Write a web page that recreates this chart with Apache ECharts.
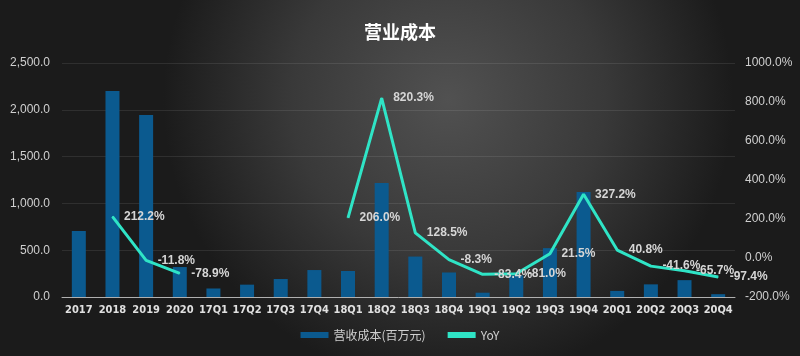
<!DOCTYPE html>
<html>
<head>
<meta charset="utf-8">
<script src="https://cdn.jsdelivr.net/npm/echarts@6/dist/echarts.min.js"></script>
<style>html,body{margin:0;padding:0;background:#222;}#c{width:800px;height:356px;}</style>
</head>
<body>
<div id="c"></div>
<script>
const categories = ['2017','2018','2019','2020','17Q1','17Q2','17Q3','17Q4','18Q1','18Q2','18Q3','18Q4','19Q1','19Q2','19Q3','19Q4','20Q1','20Q2','20Q3','20Q4'];
const costValues = [705, 2201, 1944, 320, 91, 132, 192, 288, 278, 1218, 432, 262, 46, 231, 522, 1122, 65, 135, 180, 30];
const yoyValues = [null, 212.2, -11.8, -78.9, null, null, null, null, 206.0, 820.3, 128.5, -8.3, -83.4, -81.0, 21.5, 327.2, 40.8, -41.6, -65.7, -97.4];
const leftTicks = [0, 500, 1000, 1500, 2000, 2500];
const rightTicks = [-200, 0, 200, 400, 600, 800, 1000];

const chart = echarts.init(document.getElementById('c'), null, {renderer: 'canvas'});
const labelColor = '#d6d6d6';
chart.setOption({
  animation: false,
  backgroundColor: {
    type: 'radial', x: 0.56, y: 0.28, r: 0.8,
    colorStops: [{offset: 0, color: '#515151'}, {offset: 0.55, color: '#393939'}, {offset: 1, color: '#1b1b1b'}]
  },
  title: {
    text: '营业成本', left: 'center', top: 18,
    textStyle: {color: '#ffffff', fontSize: 18, fontWeight: 'bold', fontFamily: 'Noto Sans CJK SC'}
  },
  legend: {
    bottom: 10, left: 'center', itemGap: 22, itemWidth: 28, itemHeight: 6,
    textStyle: {color: '#cfcfcf', fontSize: 12, fontFamily: 'Noto Sans CJK SC'},
    data: [{name: '营收成本(百万元)', icon: 'rect'}, {name: 'YoY', icon: 'rect'}]
  },
  grid: {left: 62, right: 65, top: 63, bottom: 59},
  xAxis: {
    type: 'category', data: categories,
    axisTick: {show: false},
    axisLine: {lineStyle: {color: '#b0b0b0', width: 1}},
    axisLabel: {color: '#e0e0e0', fontSize: 11, fontWeight: 'bold', fontFamily: 'DejaVu Sans Condensed, Liberation Sans', interval: 0, margin: 8}
  },
  yAxis: [{
    type: 'value', min: leftTicks[0], max: leftTicks[leftTicks.length - 1], interval: 500,
    axisLabel: {color: '#d0d0d0', fontSize: 12, fontFamily: 'Liberation Sans', margin: 12,
      formatter: v => v.toLocaleString('en-US', {minimumFractionDigits: 1, maximumFractionDigits: 1})},
    axisLine: {show: false}, axisTick: {show: false},
    splitLine: {lineStyle: {color: 'rgba(255,255,255,0.09)'}}
  }, {
    type: 'value', min: rightTicks[0], max: rightTicks[rightTicks.length - 1], interval: 200,
    axisLabel: {color: '#d0d0d0', fontSize: 12, fontFamily: 'Liberation Sans', margin: 10,
      formatter: v => v.toFixed(1) + '%'},
    axisLine: {show: false}, axisTick: {show: false}, splitLine: {show: false}
  }],
  series: [{
    name: '营收成本(百万元)', type: 'bar', data: costValues, barWidth: 14,
    itemStyle: {color: '#0b5a8f'}
  }, {
    name: 'YoY', type: 'line', yAxisIndex: 1, data: yoyValues,
    showSymbol: true, symbol: 'circle', symbolSize: 1, connectNulls: false,
    lineStyle: {color: '#2fe4c6', width: 3},
    itemStyle: {color: '#2fe4c6'},
    label: {show: true, position: 'right', distance: 11, color: labelColor, fontSize: 12, fontWeight: 'bold', fontFamily: 'Liberation Sans',
      formatter: p => p.value == null ? '' : p.value.toFixed(1) + '%'}
  }]
});
</script>
</body>
</html>
